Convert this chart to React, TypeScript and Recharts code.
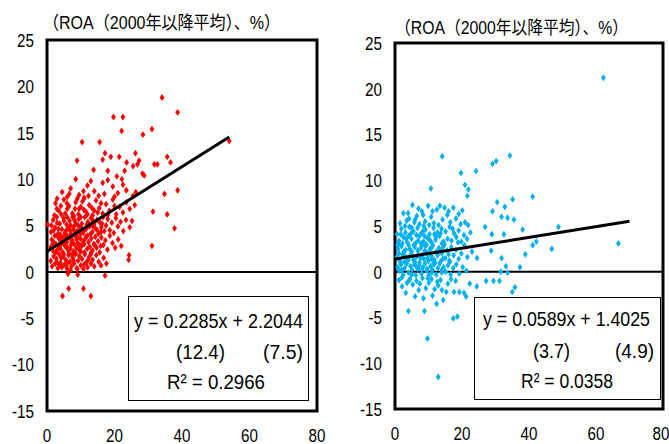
import React from "react";
import {
  ScatterChart,
  Scatter,
  XAxis,
  YAxis,
  ReferenceArea,
  ReferenceLine,
} from "recharts";

// 縦軸: ROA（2000年以降平均）、横軸: 0〜80
const xTicks = [0, 20, 40, 60, 80];
const yTicks = [-15, -10, -5, 0, 5, 10, 15, 20, 25];
const titleText = "（ROA（2000年以降平均）、%）";

// 左パネル（赤）
const leftPoints: [number, number][] = [
  // y 8-10
  [4.5, 8.6], [7, 9.0], [9.5, 8.3], [12, 9.3], [14, 8.7], [16.5, 9.6], [18, 9.9], [19.5, 9.2],
  [21, 8.5], [23.5, 8.8], [25.5, 8.2], [11, 8.0], [17, 8.4], [20, 8.1], [22.5, 9.4], [13, 9.8],
  [15.3, 8.2], [6, 8.1],
  // y 6-8
  [2.5, 7.4], [3.5, 6.6], [5, 7.8], [6.5, 7.1], [7.5, 6.3], [8.5, 7.5], [9.5, 6.8], [10.5, 7.6],
  [11.5, 6.5], [12.5, 7.2], [13.5, 6.1], [14.5, 7.7], [15.5, 6.9], [16.5, 6.3], [17.5, 7.3],
  [18.5, 6.6], [19.5, 7.8], [20.5, 6.2], [21.5, 7.0], [22.5, 6.4], [23.5, 7.5], [24.5, 6.8],
  [26, 7.2], [4.2, 6.2], [6, 6.8], [8, 6.0], [10, 7.0], [12, 6.2], [14, 6.6], [16, 7.4],
  [18, 6.1], [20, 7.1], [3, 7.9], [11, 7.9], [15, 6.4], [9, 7.9],
  // y 4-6
  [1.2, 4.3], [1.8, 5.6], [2.4, 4.8], [2.9, 5.9], [3.3, 4.1], [3.8, 5.2], [4.4, 4.6], [4.9, 5.8],
  [5.3, 4.2], [5.8, 5.1], [6.2, 4.7], [6.7, 5.5], [7.1, 4.1], [7.6, 5.9], [8.0, 4.9], [8.5, 5.3],
  [8.9, 4.4], [9.4, 5.7], [9.8, 4.8], [10.3, 5.2], [10.7, 4.2], [11.2, 5.9], [11.6, 4.6],
  [12.1, 5.4], [12.5, 4.9], [13.0, 5.8], [13.4, 4.3], [13.9, 5.1], [14.3, 4.7], [14.8, 5.6],
  [15.2, 4.1], [15.7, 5.3], [16.1, 4.8], [16.6, 5.9], [17.0, 4.4], [17.5, 5.0], [18.0, 5.7],
  [18.6, 4.5], [19.2, 5.3], [19.8, 4.2], [20.4, 5.8], [21.0, 4.9], [21.8, 5.4], [22.6, 4.4],
  [23.4, 5.6], [24.5, 4.8], [25.2, 5.5], [2.0, 4.5], [3.0, 5.3], [4.0, 4.0], [5.0, 5.5],
  [6.0, 5.9], [7.0, 5.0], [8.2, 4.1], [9.2, 5.0], [10.0, 5.9], [11.0, 4.5], [12.8, 5.0],
  [14.0, 5.3], [16.0, 4.3], [5.5, 4.4], [7.8, 4.6], [9.9, 4.1], [13.6, 4.9],
  // y 2-4
  [1.0, 2.6], [1.4, 3.5], [1.9, 2.2], [2.3, 3.9], [2.7, 3.0], [3.1, 2.4], [3.5, 3.6], [3.9, 2.9],
  [4.3, 3.3], [4.7, 2.1], [5.1, 3.8], [5.5, 2.7], [5.9, 3.2], [6.3, 2.3], [6.7, 3.7], [7.1, 2.9],
  [7.5, 3.4], [7.9, 2.2], [8.3, 3.9], [8.7, 2.6], [9.1, 3.1], [9.5, 2.4], [9.9, 3.6], [10.3, 2.8],
  [10.7, 3.3], [11.1, 2.1], [11.5, 3.8], [11.9, 2.5], [12.3, 3.2], [12.7, 2.7], [13.1, 3.6],
  [13.5, 2.3], [13.9, 3.0], [14.3, 3.8], [14.7, 2.6], [15.1, 3.3], [15.6, 2.1], [16.1, 3.7],
  [16.7, 2.9], [17.3, 3.4], [17.9, 2.4], [18.6, 3.9], [19.4, 3.1], [20.2, 2.6], [21.1, 3.5],
  [22.0, 2.8], [2.0, 3.2], [3.0, 3.9], [4.0, 2.5], [5.0, 3.0], [6.0, 3.9], [7.0, 2.5], [8.0, 3.0],
  [9.0, 3.8], [10.0, 2.2], [11.0, 3.0], [12.0, 3.9], [13.0, 2.1], [6.5, 2.0], [8.5, 2.0], [4.5, 3.6],
  // y 0-2
  [1.1, 1.2], [1.5, 0.6], [2.0, 1.7], [2.4, 0.9], [2.8, 1.4], [3.2, 0.4], [3.6, 1.9], [4.0, 1.0],
  [4.4, 0.5], [4.8, 1.6], [5.2, 0.8], [5.6, 1.3], [6.0, 0.3], [6.4, 1.8], [6.8, 1.1], [7.2, 0.6],
  [7.6, 1.5], [8.0, 0.9], [8.4, 1.9], [8.8, 0.4], [9.2, 1.2], [9.6, 1.7], [10.0, 0.7], [10.4, 1.4],
  [10.8, 0.3], [11.2, 1.9], [11.6, 1.0], [12.0, 0.5], [12.5, 1.6], [13.0, 0.9], [13.5, 1.3],
  [14.0, 0.6], [14.6, 1.8], [15.3, 1.1], [16.0, 0.7], [16.8, 1.5], [17.6, 0.9], [3.0, 1.0],
  [5.0, 1.9], [7.0, 0.2], [9.0, 0.3], [11.0, 0.8], [13.0, 1.9], [4.2, 1.5], [6.2, 1.0],
  // 中心部の追加
  [2.2, 6.1], [3.4, 4.6], [4.6, 3.1], [5.4, 6.3], [6.1, 2.6], [6.9, 4.4], [7.4, 1.8], [8.1, 5.6],
  [8.8, 3.5], [9.3, 6.2], [9.7, 2.9], [10.5, 4.6], [10.9, 6.7], [11.4, 3.6], [12.2, 1.3],
  [12.9, 4.1], [13.3, 6.9], [14.1, 2.9], [14.9, 4.5], [15.9, 2.8], [3.8, 0.8], [5.7, 0.6],
  [7.9, 1.2], [2.6, 2.1], [1.6, 3.0], [1.3, 5.0], [4.1, 7.1], [6.6, 8.4], [8.3, 6.8], [5.9, 7.4],
  [10.8, 8.7], [12.3, 8.2], [7.3, 3.2], [9.6, 4.4], [11.8, 5.1], [13.7, 5.5], [3.6, 2.7],
  [5.8, 3.5], [2.9, 6.8], [16.3, 5.2],
  // 外れ値
  [0.2, 5.1], [34.1, 18.8], [38.7, 17.2], [19.7, 16.7], [22.5, 16.7], [22.1, 15.2], [28.4, 14.8],
  [31.1, 15.4], [10.4, 14.0], [15.6, 14.0], [54, 14.1], [8.9, 12.0], [17.2, 12.8], [26.2, 12.8],
  [16.5, 12.1], [18.9, 12.4], [21.4, 12.4], [23.6, 11.8], [27.3, 12.0], [26.8, 11.6], [35.6, 12.4],
  [36.6, 11.8], [31.8, 11.6], [32.7, 11.6], [25.5, 11.4], [13.8, 11.0], [18, 10.9], [8.5, 10.0],
  [20.7, 10.3], [22.2, 10.0], [23, 10.9], [28.8, 10.4], [28.3, 10.6], [38.7, 8.8], [34.8, 8.4],
  [26.3, 8.6], [31.4, 6.5], [35.6, 6.2], [37.8, 4.7], [31.1, 2.8], [24.2, 1.3], [24.3, 1.8],
  [6.2, -0.2], [9.1, -0.3], [17.2, -0.4], [4.6, -2.6], [6.4, -1.8], [10.8, -1.8], [13, -2.6],
];

// 右パネル（青）
const rightPoints: [number, number][] = [
  // y 5-7.5
  [1.5, 5.3], [2.5, 6.4], [3.5, 5.6], [4.2, 5.8], [5.2, 7.3], [6.5, 6.1], [7.3, 5.2], [8.0, 6.6],
  [9.0, 5.5], [9.9, 7.2], [10.8, 6.0], [11.6, 5.3], [12.5, 6.8], [13.4, 7.2], [14.2, 5.7],
  [14.8, 7.0], [15.6, 6.2], [16.5, 5.4], [17.4, 7.0], [18.2, 5.8], [19.0, 6.3], [20.1, 6.7],
  [20.9, 5.4], [21.8, 5.1], [3.0, 5.0], [5.8, 5.4], [8.6, 5.0], [11.2, 6.6], [13.0, 5.1],
  [16.0, 6.6], [19.6, 5.2], [7.0, 6.9], [10.2, 5.1],
  // y 3-5
  [0.6, 4.1], [1.2, 3.4], [1.9, 4.7], [2.5, 3.8], [3.1, 4.3], [3.7, 3.2], [4.3, 4.9], [4.9, 3.6],
  [5.5, 4.4], [6.1, 3.1], [6.7, 4.8], [7.3, 3.9], [7.9, 4.2], [8.5, 3.3], [9.1, 4.6], [9.7, 3.7],
  [10.3, 4.1], [10.9, 3.2], [11.5, 4.8], [12.1, 3.5], [12.7, 4.3], [13.3, 3.9], [13.9, 4.7],
  [14.5, 3.3], [15.1, 4.4], [15.7, 3.6], [16.3, 4.9], [16.9, 3.4], [17.6, 4.2], [18.3, 3.8],
  [19.0, 4.5], [19.8, 3.3], [20.6, 4.0], [21.5, 3.6], [22.5, 4.3], [2.2, 3.1], [4.0, 3.9],
  [6.4, 4.0], [8.8, 3.9], [11.8, 4.1], [14.0, 3.1], [17.2, 4.7], [5.0, 4.8], [9.4, 3.0],
  // y 1-3
  [0.5, 1.6], [0.9, 2.5], [1.4, 1.2], [1.9, 2.8], [2.3, 1.9], [2.8, 1.1], [3.2, 2.4], [3.7, 1.5],
  [4.1, 2.9], [4.6, 1.8], [5.0, 2.2], [5.5, 1.3], [5.9, 2.7], [6.4, 1.6], [6.8, 2.3], [7.3, 1.0],
  [7.7, 2.6], [8.2, 1.9], [8.6, 1.4], [9.1, 2.8], [9.5, 2.1], [10.0, 1.2], [10.4, 2.5], [10.9, 1.7],
  [11.3, 2.9], [11.8, 1.3], [12.2, 2.2], [12.7, 1.8], [13.1, 2.6], [13.6, 1.1], [14.0, 2.0],
  [14.5, 2.8], [15.0, 1.5], [15.6, 2.3], [16.2, 1.2], [16.8, 2.7], [17.5, 1.8], [18.2, 2.4],
  [19.0, 1.4], [19.8, 2.0], [20.7, 2.9], [21.6, 1.6], [23.0, 2.2], [24.5, 1.5], [1.2, 2.0],
  [3.0, 1.7], [6.0, 1.0], [8.0, 2.9], [10.2, 2.0], [12.0, 1.0], [13.8, 2.4], [16.0, 1.9],
  [4.4, 2.5], [7.0, 1.9], [9.7, 1.5],
  // y -0.5-1
  [0.8, 0.5], [1.3, 0.1], [1.8, 0.8], [2.4, -0.3], [2.9, 0.4], [3.5, 0.9], [4.0, -0.1], [4.6, 0.6],
  [5.1, 0.2], [5.7, 0.8], [6.2, -0.4], [6.8, 0.3], [7.3, 0.7], [7.9, -0.2], [8.4, 0.5], [9.0, 0.9],
  [9.5, 0.1], [10.1, -0.4], [10.6, 0.6], [11.2, 0.2], [11.7, 0.8], [12.3, -0.3], [12.8, 0.4],
  [13.4, 0.9], [13.9, -0.1], [14.5, 0.5], [15.1, 0.0], [15.8, 0.7], [16.6, -0.3], [17.4, 0.4],
  [18.3, 0.8], [19.2, -0.2], [20.2, 0.5], [21.3, 0.1], [2.0, 0.2], [5.0, -0.3], [8.0, 0.2],
  [11.0, -0.1], [14.0, 0.2],
  // y < -0.5
  [1.2, -0.9], [2.1, -1.6], [3.2, -2.3], [4.5, -0.8], [5.3, -1.4], [6.4, -1.0], [7.1, -2.0],
  [8.2, -0.7], [9.2, -1.8], [10.1, -1.2], [10.9, -0.8], [11.2, -2.6], [12.4, -3.5], [12.9, -1.5],
  [13.6, -0.9], [14.4, -3.1], [15.3, -2.2], [15.8, -1.3], [16.7, -0.8], [17.6, -2.2], [18.1, -1.0],
  [19.2, -2.2], [20.6, -2.3], [21.2, -2.7], [22.3, -1.3], [24.4, -1.6], [9.7, -7.3], [12.9, -11.5],
  [17.4, -5.1], [18.6, -4.9], [4.0, -4.3], [8.8, -4.3], [3.6, -1.2], [6.0, -2.7], [8.5, -2.9],
  [11.8, -1.9], [14.0, -2.0],
  // 中心部の追加
  [1.0, 3.0], [1.7, 4.1], [2.6, 2.2], [3.3, 3.6], [4.0, 1.3], [4.8, 4.2], [5.6, 2.9], [6.3, 0.6],
  [6.9, 3.4], [7.6, 1.5], [8.3, 4.4], [8.9, 2.3], [9.6, 0.3], [10.3, 3.5], [10.9, 2.6], [11.5, 0.9],
  [12.2, 3.8], [12.9, 2.1], [13.6, 4.2], [14.3, 1.4], [3.9, 6.4], [6.0, 5.7], [8.4, 6.2],
  [2.1, -0.6], [4.3, -0.9], [7.4, -1.3], [9.8, -0.7], [12.6, -1.1], [1.6, 1.0], [5.3, 1.7],
  [7.8, 3.1], [11.0, 1.4], [14.8, 3.0], [0.7, 2.9], [16.4, 1.1], [18.8, 3.2],
  // 外れ値
  [62.2, 21.2], [14.1, 12.6], [34.3, 12.7], [29.1, 11.8], [30.2, 12.1], [19.7, 10.8], [24.2, 11.0],
  [20.9, 9.5], [21.9, 9.0], [21.6, 8.3], [10.7, 9.1], [35.1, 7.9], [41.1, 8.2], [30.5, 7.6],
  [32.8, 7.1], [29.1, 6.6], [31.8, 6.0], [33.6, 5.9], [35.5, 5.7], [48.8, 4.9], [38.1, 4.6],
  [26.9, 4.9], [32.5, 4.1], [28.9, 4.1], [42.2, 3.3], [41.1, 2.9], [66.7, 3.1], [46.8, 2.5],
  [28.7, 2.3], [38.9, 1.9], [31.8, 1.5], [37.3, 0.5], [33.1, 0.6], [31.6, 0.0], [33.6, -0.1],
  [27.2, -1.0], [29.4, -1.0], [31.2, -1.0], [35.8, -1.7], [35.0, -2.2],
];

// 回帰式
const leftFit = { slope: 0.2285, intercept: 2.2044, xMax: 54 };
const rightFit = { slope: 0.0589, intercept: 1.4025, xMax: 70 };
const leftEq = ["y = 0.2285x + 2.2044", "(12.4)", "(7.5)", "R² = 0.2966"];
const rightEq = ["y = 0.0589x + 1.4025", "(3.7)", "(4.9)", "R² = 0.0358"];

const FONT = "'Liberation Sans', Arial, 'Noto Sans CJK JP', sans-serif";
const SQUEEZE = 0.8;

const fitLine = (f: { slope: number; intercept: number; xMax: number }) => [
  { x: 0, y: f.intercept },
  { x: f.xMax, y: f.slope * f.xMax + f.intercept },
];

const toObjs = (pts: [number, number][]) => pts.map(([x, y]) => ({ x, y }));

const Diamond = (props: any) => {
  const { cx, cy, fill } = props;
  return (
    <path
      d={`M${cx},${cy - 3.4}L${cx + 2.4},${cy}L${cx},${cy + 3.4}L${cx - 2.4},${cy}Z`}
      fill={fill}
    />
  );
};

const XTick = (props: any) => {
  const { x, y, payload } = props;
  return (
    <g transform={`translate(${x},${y})`}>
      <text transform={`scale(${SQUEEZE},1)`} textAnchor="middle" dy="0.71em" fontSize={19} fontFamily={FONT} fill="#000">
        {payload.value}
      </text>
    </g>
  );
};

const YTick = (props: any) => {
  const { x, y, payload } = props;
  return (
    <g transform={`translate(${x},${y})`}>
      <text transform={`scale(${SQUEEZE},1)`} textAnchor="end" dy="0.36em" fontSize={19} fontFamily={FONT} fill="#000">
        {payload.value}
      </text>
    </g>
  );
};

function Panel({
  points,
  color,
  fit,
  width,
  margin,
  plotHeight,
  yWidth,
}: {
  points: [number, number][];
  color: string;
  fit: { slope: number; intercept: number; xMax: number };
  width: number;
  margin: { top: number; right: number; bottom: number; left: number };
  plotHeight: number;
  yWidth: number;
}) {
  const height = 460;
  return (
    <ScatterChart width={width} height={height} margin={margin}>
      <XAxis
        type="number"
        dataKey="x"
        domain={[0, 80]}
        ticks={xTicks}
        axisLine={false}
        tickLine={false}
        tick={<XTick />}
        tickMargin={12}
        height={height - margin.top - margin.bottom - plotHeight}
      />
      <YAxis
        type="number"
        dataKey="y"
        domain={[-15, 25]}
        ticks={yTicks}
        axisLine={false}
        tickLine={false}
        tick={<YTick />}
        tickMargin={7}
        width={yWidth}
      />
      <ReferenceLine y={0} stroke="#000" strokeWidth={2} />
      <Scatter data={toObjs(points)} fill={color} shape={<Diamond />} isAnimationActive={false} />
      <Scatter
        data={fitLine(fit)}
        line={{ stroke: "#000", strokeWidth: 3 }}
        shape={() => <g />}
        isAnimationActive={false}
      />
      <ReferenceArea
        x1={0}
        x2={80}
        y1={-15}
        y2={25}
        fill="none"
        stroke="#000"
        strokeWidth={3}
        ifOverflow="visible"
      />
    </ScatterChart>
  );
}

// テキスト幅を参照画像に合わせて textLength で指定
function FitText({ x, y, w, children, size = 20 }: { x: number; y: number; w: number; children: string; size?: number }) {
  return (
    <text
      x={x}
      y={y}
      textLength={w}
      lengthAdjust="spacingAndGlyphs"
      dominantBaseline="central"
      fontSize={size}
      fontFamily={FONT}
      fill="#000"
    >
      {children}
    </text>
  );
}

function EqBox({ lines, box, spots }: { lines: string[]; box: number[]; spots: number[][] }) {
  return (
    <g>
      <rect x={box[0]} y={box[1]} width={box[2]} height={box[3]} fill="#fff" stroke="#000" strokeWidth={1} />
      {lines.map((t, i) => (
        <FitText key={i} x={spots[i][0]} y={spots[i][1]} w={spots[i][2]}>
          {t}
        </FitText>
      ))}
    </g>
  );
}

export default function App() {
  return (
    <div
      style={{
        position: "absolute",
        left: 0,
        top: 0,
        width: 669,
        height: 444,
        overflow: "hidden",
        background: "#fff",
      }}
    >
      <div style={{ position: "absolute", left: 0, top: 0 }}>
        <Panel
          points={leftPoints}
          color="#ff0000"
          fit={leftFit}
          width={330}
          margin={{ top: 40, right: 13, bottom: 0, left: 0 }}
          plotHeight={371}
          yWidth={47}
        />
      </div>
      <div style={{ position: "absolute", left: 335, top: 0 }}>
        <Panel
          points={rightPoints}
          color="#00b0f0"
          fit={rightFit}
          width={334}
          margin={{ top: 43, right: 6, bottom: 0, left: 0 }}
          plotHeight={366}
          yWidth={60}
        />
      </div>
      <svg width={669} height={444} style={{ position: "absolute", left: 0, top: 0, pointerEvents: "none" }}>
        <FitText x={43} y={23} w={237} size={18}>
          {titleText}
        </FitText>
        <FitText x={395} y={28} w={233} size={18}>
          {titleText}
        </FitText>
        <EqBox
          lines={leftEq}
          box={[128.5, 296.5, 180, 104]}
          spots={[[134, 321, 169], [176, 352, 49], [263, 352, 40], [167, 382, 98]]}
        />
        <EqBox
          lines={rightEq}
          box={[474.5, 297.5, 186, 102]}
          spots={[[483, 319, 167], [533, 351, 37], [615, 351, 39], [521, 381, 92]]}
        />
      </svg>
    </div>
  );
}
